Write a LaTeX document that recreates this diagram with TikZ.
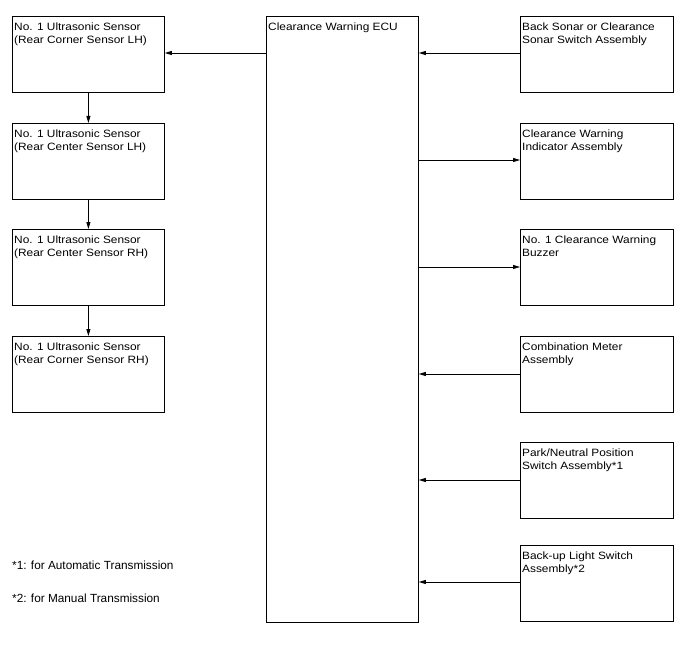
\documentclass[tikz,border=0pt]{standalone}
\usepackage{fontspec}
\setmainfont{Liberation Sans}
\newfontfamily\boxfont[FakeStretch=1.12]{Liberation Sans}
\usetikzlibrary{arrows.meta}
\begin{document}
\begin{tikzpicture}[x=1pt,y=-1pt,
  box/.style={draw, line width=0.8pt, minimum width=152pt, minimum height=76pt, inner sep=0pt, anchor=north west},
  lbl/.style={anchor=north west, align=left, inner xsep=2pt, inner ysep=7pt, font=\boxfont\fontsize{10.6}{12.3}\selectfont},
  note/.style={anchor=west, inner sep=0pt, font=\fontsize{11.8}{13}\selectfont},
  arr/.style={line width=0.8pt, -{Triangle[length=7pt,width=4pt]}}]
\useasboundingbox (0,0) rectangle (688,658);
% left column
\node[box, label={[lbl]north west:No. 1 Ultrasonic Sensor\\(Rear Corner Sensor LH)}] (l1) at (12,16) {};
\node[box, label={[lbl]north west:No. 1 Ultrasonic Sensor\\(Rear Center Sensor LH)}] (l2) at (12,123) {};
\node[box, label={[lbl]north west:No. 1 Ultrasonic Sensor\\(Rear Center Sensor RH)}] (l3) at (12,229) {};
\node[box, label={[lbl]north west:No. 1 Ultrasonic Sensor\\(Rear Corner Sensor RH)}] (l4) at (12,336) {};
% ECU
\node[box, minimum height=606pt, label={[lbl]north west:Clearance Warning ECU}] (ecu) at (266,16) {};
% right column
\node[box, minimum width=153pt, label={[lbl]north west:Back Sonar or Clearance\\Sonar Switch Assembly}] (r1) at (520,16) {};
\node[box, minimum width=153pt, label={[lbl]north west:Clearance Warning\\Indicator Assembly}] (r2) at (520,123) {};
\node[box, minimum width=153pt, label={[lbl]north west:No. 1 Clearance Warning\\Buzzer}] (r3) at (520,229) {};
\node[box, minimum width=153pt, label={[lbl]north west:Combination Meter\\Assembly}] (r4) at (520,336) {};
\node[box, minimum width=153pt, label={[lbl]north west:Park/Neutral Position\\Switch Assembly*1}] (r5) at (520,442) {};
\node[box, minimum width=153pt, label={[lbl]north west:Back-up Light Switch\\Assembly*2}] (r6) at (520,545) {};
% footnotes
\node[note] (n1) at (12,565) {*1: for Automatic Transmission};
\node[note] (n2) at (12,598) {*2: for Manual Transmission};
% arrows
\draw[arr] (ecu.west |- 0,53) -- (l1.east |- 0,53);
\draw[arr] (l1.south) -- (l2.north);
\draw[arr] (l2.south) -- (l3.north);
\draw[arr] (l3.south) -- (l4.north);
\draw[arr] (r1.west |- 0,53) -- (ecu.east |- 0,53);
\draw[arr] (ecu.east |- 0,160) -- (r2.west |- 0,160);
\draw[arr] (ecu.east |- 0,267) -- (r3.west |- 0,267);
\draw[arr] (r4.west |- 0,374) -- (ecu.east |- 0,374);
\draw[arr] (r5.west |- 0,480) -- (ecu.east |- 0,480);
\draw[arr] (r6.west |- 0,582) -- (ecu.east |- 0,582);
\end{tikzpicture}
\end{document}
